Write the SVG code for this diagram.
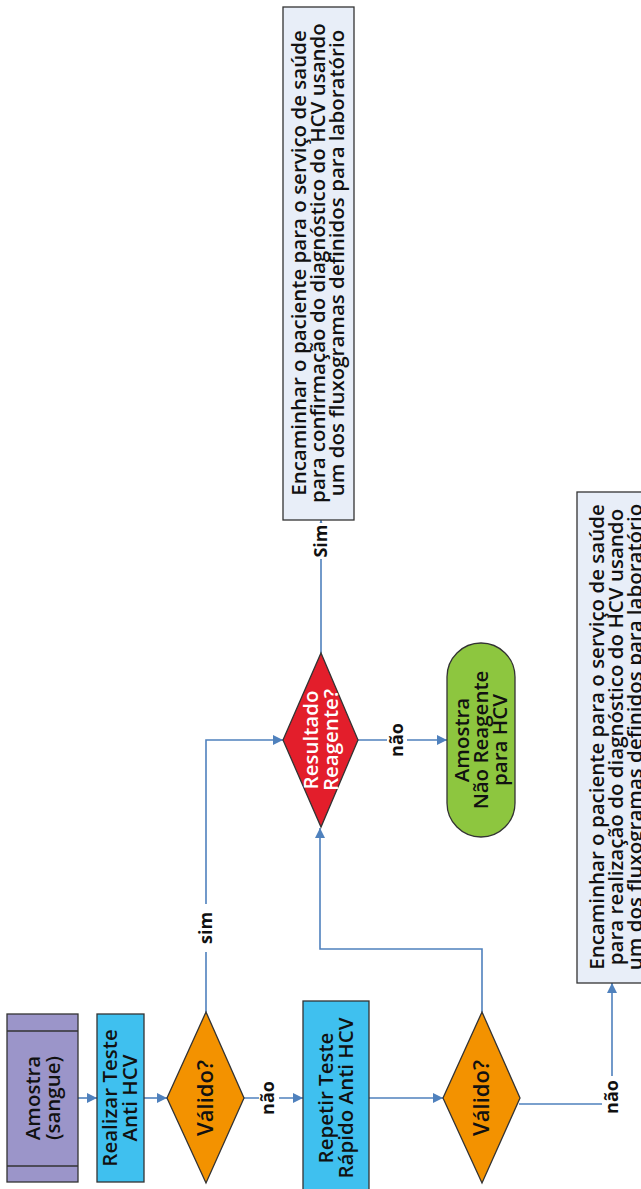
<svg xmlns="http://www.w3.org/2000/svg" width="641" height="1189" viewBox="0 0 641 1189">
<defs>
<marker id="ah" viewBox="0 0 10 10" refX="10" refY="5" markerWidth="10" markerHeight="10" markerUnits="userSpaceOnUse" orient="auto">
<path d="M0,0 L10,5 L0,10 z" fill="#4F81BD"/>
</marker>
<style>
.t{font-family:"Open Sans","Noto Sans","DejaVu Sans",sans-serif;font-size:20.5px;font-weight:600;fill:#111;text-anchor:middle}
.big{font-size:22px}
.w{fill:#fff}
.lb{font-family:"Open Sans","Noto Sans","DejaVu Sans",sans-serif;font-size:18px;font-weight:bold;fill:#111;text-anchor:middle}
.sh{stroke:#333;stroke-width:1.3}
.c{fill:none;stroke:#4F81BD;stroke-width:1.6}
.bg{fill:#fff}
</style>
</defs>
<rect width="641" height="1189" fill="#fff"/>
<g id="connectors">
<path class="c" d="M78,1098 H97" marker-end="url(#ah)"/>
<path class="c" d="M144,1098 H167" marker-end="url(#ah)"/>
<path class="c" d="M244,1098 H303" marker-end="url(#ah)"/>
<path class="c" d="M206,1012 V740 H283" marker-end="url(#ah)"/>
<path class="c" d="M369,1098 H443" marker-end="url(#ah)"/>
<path class="c" d="M482,1012 V949 H320 V828" marker-end="url(#ah)"/>
<path class="c" d="M358,740 H447" marker-end="url(#ah)"/>
<path class="c" d="M321,653 V520" marker-end="url(#ah)"/>
<path class="c" d="M519,1104 H612 V983" marker-end="url(#ah)"/>
<rect class="bg" x="259" y="1079" width="20" height="38"/>
<text class="lb" transform="translate(268,1098) rotate(-90)" y="6">não</text>
<rect class="bg" x="196" y="904" width="20" height="48"/>
<text class="lb" transform="translate(206,928) rotate(-90)" y="6">sim</text>
<rect class="bg" x="387" y="722" width="20" height="36"/>
<text class="lb" transform="translate(397,740) rotate(-90)" y="6">não</text>
<rect class="bg" x="311" y="523" width="20" height="36"/>
<text class="lb" transform="translate(321,541) rotate(-90)" y="6">Sim</text>
<rect class="bg" x="602" y="1076" width="20" height="40"/>
<text class="lb" transform="translate(612,1097) rotate(-90)" y="6">não</text>
</g>
<g id="amostra">
<rect class="sh" x="7" y="1014" width="71" height="168" fill="#9B95C9"/>
<path class="sh" d="M7,1031 H78 M7,1166 H78" fill="none"/>
<text class="t" transform="translate(43,1098) rotate(-90)"><tspan x="0" y="-3">Amostra</tspan><tspan x="0" y="17">(sangue)</tspan></text>
</g>
<g id="realizar">
<rect class="sh" x="97" y="1014" width="47" height="168" fill="#3FC0EF"/>
<text class="t" transform="translate(120,1098) rotate(-90)"><tspan x="0" y="-3">Realizar Teste</tspan><tspan x="0" y="17">Anti HCV</tspan></text>
</g>
<g id="valido1">
<polygon class="sh" points="206,1012 244,1098 206,1183 167,1098" fill="#F39200"/>
<text class="t big" transform="translate(206,1098) rotate(-90)" y="7">Válido?</text>
</g>
<g id="repetir">
<rect class="sh" x="303" y="1001" width="66" height="200" fill="#3FC0EF"/>
<text class="t" transform="translate(336,1098) rotate(-90)"><tspan x="0" y="-3">Repetir Teste</tspan><tspan x="0" y="17">Rápido Anti HCV</tspan></text>
</g>
<g id="valido2">
<polygon class="sh" points="482,1012 520,1098 482,1183 443,1098" fill="#F39200"/>
<text class="t big" transform="translate(482,1098) rotate(-90)" y="7">Válido?</text>
</g>
<g id="resultado">
<polygon class="sh" points="321,653 358,740 321,827 283,740" fill="#E31E2B"/>
<text class="t w" transform="translate(321,740) rotate(-90)"><tspan x="0" y="-3">Resultado</tspan><tspan x="0" y="17">Reagente?</tspan></text>
</g>
<g id="naoreagente">
<rect class="sh" x="447" y="643" width="68" height="194" rx="34" ry="34" fill="#8DC63F"/>
<text class="t" transform="translate(481,740) rotate(-90)"><tspan x="0" y="-12">Amostra</tspan><tspan x="0" y="7">Não Reagente</tspan><tspan x="0" y="26">para HCV</tspan></text>
</g>
<g id="confirmacao">
<rect class="sh" x="283" y="7" width="71" height="513" fill="#E8EEF8"/>
<text class="t" transform="translate(318,263) rotate(-90)"><tspan x="0" y="-12">Encaminhar o paciente para o serviço de saúde</tspan><tspan x="0" y="7">para confirmação do diagnóstico do HCV usando</tspan><tspan x="0" y="26">um dos fluxogramas definidos para laboratório</tspan></text>
</g>
<g id="realizacao">
<rect class="sh" x="577" y="492" width="70" height="491" fill="#E8EEF8"/>
<text class="t" transform="translate(616,737) rotate(-90)"><tspan x="0" y="-12">Encaminhar o paciente para o serviço de saúde</tspan><tspan x="0" y="7">para realização do diagnóstico do HCV usando</tspan><tspan x="0" y="26">um dos fluxogramas definidos para laboratório</tspan></text>
</g>
</svg>
